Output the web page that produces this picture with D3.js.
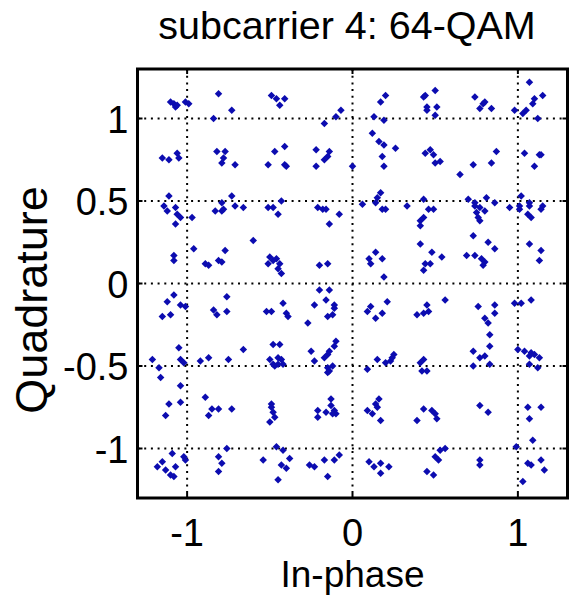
<!DOCTYPE html>
<html>
<head>
<meta charset="utf-8">
<script src="https://cdn.jsdelivr.net/npm/d3@7"></script>
<style>
  body { margin: 0; background: #fff; }
  text { font-family: "Liberation Sans", Arial, sans-serif; fill: #000; }
</style>
</head>
<body>
<svg id="chart" width="570" height="596"></svg>
<script>
var title = "subcarrier 4: 64-QAM";
var xLabel = "In-phase";
var yLabel = "Quadrature";
var xTicks = [-1, 0, 1];
var yTicks = [-1, -0.5, 0, 0.5, 1];
var limits = [-1.3, 1.3];

// received symbols, [in-phase, quadrature]
var received = [
  [-1.10,1.10],[-1.08,1.09],[-1.07,1.07],[-1.06,1.08],[-1.01,1.10],[-0.99,1.09],
  [-0.81,1.15],[-0.84,1.00],[-0.73,1.05],[-0.49,1.14],
  [-1.15,0.76],[-1.11,0.75],[-1.06,0.79],[-1.05,0.76],
  [-0.82,0.80],[-0.77,0.80],[-0.78,0.76],[-0.79,0.73],[-0.71,0.72],
  [-0.47,0.80],[-0.51,0.72],
  [-1.11,0.53],[-0.73,0.53],[-0.79,0.49],
  [-1.14,0.47],[-1.12,0.44],[-1.07,0.46],[-1.06,0.42],[-1.04,0.40],[-0.97,0.40],[-1.07,0.36],
  [-0.83,0.44],[-0.79,0.44],[-0.78,0.45],[-0.71,0.47],[-0.66,0.46],
  [-0.51,0.46],[-0.48,0.46],[-0.45,0.42],
  [-0.60,0.26],[-0.96,0.21],[-0.77,0.20],[-1.08,0.17],[-1.08,0.14],
  [-0.89,0.12],[-0.87,0.11],[-0.81,0.14],[-0.79,0.13],
  [-0.50,0.16],[-0.48,0.14],[-0.51,0.12],[-0.46,0.15],[-0.44,0.12],[-0.45,0.09],[-0.43,0.06],
  [-1.08,-0.07],[-1.12,-0.11],[-1.04,-0.13],[-1.01,-0.14],[-1.15,-0.20],[-1.10,-0.19],
  [-0.76,-0.08],[-0.84,-0.16],[-0.82,-0.19],[-0.76,-0.17],
  [-0.52,-0.17],[-0.49,-0.17],
  [-1.05,-0.39],[-0.66,-0.40],[-0.48,-0.37],
  [-0.46,1.12],[-0.44,1.08],[-0.41,1.12],
  [-0.17,0.97],[-0.10,1.01],[-0.07,1.05],
  [0.13,1.01],[0.19,0.99],[0.17,1.10],[0.20,1.14],
  [0.12,0.91],[0.16,0.86],[0.19,0.84],[0.26,0.82],[0.18,0.77],[0.19,0.71],
  [0.00,0.71],
  [-0.22,0.81],[-0.14,0.80],[-0.15,0.77],[-0.17,0.75],[-0.22,0.71],
  [-0.41,0.83],[-0.41,0.72],[-0.40,0.71],
  [-0.43,0.50],[0.06,0.48],[0.15,0.52],[0.17,0.55],[0.14,0.49],
  [-0.21,0.46],[-0.18,0.45],[-0.16,0.45],[-0.08,0.42],[-0.14,0.36],
  [0.18,0.45],[0.20,0.45],[0.33,0.47],
  [-0.20,0.11],[-0.15,0.12],
  [0.14,0.19],[0.10,0.15],[0.11,0.12],[0.18,0.15],[0.19,0.04],
  [-0.20,-0.04],[-0.14,-0.04],[-0.16,-0.10],[-0.11,-0.13],[-0.11,-0.15],[-0.23,-0.13],[-0.15,-0.20],[-0.12,-0.19],
  [-0.42,-0.12],[-0.40,-0.18],[-0.39,-0.20],[-0.27,-0.24],
  [0.11,-0.14],[0.09,-0.17],[0.14,-0.21],[0.21,-0.11],[0.18,-0.18],
  [-0.44,-0.37],[-0.25,-0.41],[-0.10,-0.35],[-0.11,-0.38],[-0.14,-0.41],
  [0.43,1.13],[0.44,1.14],[0.45,1.07],[0.45,1.05],[0.50,1.17],[0.51,1.07],[0.50,1.02],
  [0.74,1.13],[0.79,1.09],[0.80,1.10],[0.77,1.06],[0.84,1.06],
  [1.07,1.22],[1.10,1.12],[1.15,1.14],[1.09,1.09],[0.98,1.05],[1.03,1.03],[1.05,1.05],[1.12,1.00],
  [0.44,0.79],[0.47,0.81],[0.49,0.78],[0.50,0.73],[0.53,0.74],
  [0.65,0.66],[0.73,0.72],[0.84,0.73],[0.87,0.80],
  [1.04,0.79],[1.13,0.78],[1.14,0.78],[1.10,0.71],
  [0.43,0.51],[0.70,0.51],[0.74,0.49],[0.81,0.52],[0.86,0.49],[1.02,0.53],[1.07,0.49],
  [0.46,0.45],[0.49,0.45],[0.43,0.40],[0.41,0.38],[0.41,0.35],
  [0.74,0.47],[0.77,0.46],[0.75,0.43],[0.80,0.44],[0.77,0.38],[0.76,0.40],
  [0.95,0.46],[1.01,0.47],[1.01,0.45],[1.07,0.47],[1.06,0.42],[1.08,0.40],[1.14,0.45],[1.15,0.47],
  [0.41,0.24],[0.48,0.19],[0.54,0.16],[0.44,0.12],[0.47,0.12],[0.43,0.08],
  [0.73,0.29],[0.82,0.25],[0.86,0.21],[0.69,0.17],[0.74,0.17],[0.78,0.15],[0.80,0.13],[0.79,0.11],
  [1.07,0.24],[1.14,0.20],[1.13,0.14],
  [0.56,-0.10],[0.45,-0.13],[0.46,-0.17],[0.43,-0.18],[0.39,-0.19],
  [0.76,-0.14],[0.86,-0.13],[0.86,-0.18],[0.80,-0.21],[0.82,-0.24],[0.83,-0.31],[0.83,-0.38],[0.73,-0.41],
  [0.98,-0.12],[1.02,-0.12],[1.08,-0.10],
  [1.00,-0.40],[1.04,-0.41],[1.08,-0.42],
  [-1.21,-0.46],[-1.17,-0.51],[-1.16,-0.57],[-1.04,-0.46],[-1.02,-0.48],[-0.92,-0.47],[-0.87,-0.45],[-0.75,-0.46],
  [-0.50,-0.46],[-0.48,-0.49],[-0.47,-0.50],
  [-1.04,-0.62],[-1.04,-0.72],[-1.11,-0.73],[-1.13,-0.80],
  [-0.89,-0.69],[-0.85,-0.76],[-0.81,-0.76],[-0.73,-0.76],[-0.87,-0.80],
  [-0.49,-0.73],[-0.48,-0.78],[-0.47,-0.81],[-0.50,-0.84],[-0.49,-0.75],
  [-1.09,-1.03],[-1.02,-1.05],[-1.01,-1.07],[-1.15,-1.08],[-1.18,-1.11],[-1.13,-1.13],[-1.07,-1.11],[-1.10,-1.16],[-1.08,-1.17],
  [-0.76,-1.00],[-0.81,-1.05],[-0.79,-1.09],[-0.81,-1.14],
  [-0.46,-0.99],[-0.54,-1.07],
  [-0.45,-0.45],[-0.43,-0.46],[-0.42,-0.49],[-0.45,-0.49],
  [-0.23,-0.47],[-0.17,-0.45],[-0.15,-0.43],[-0.15,-0.51],[-0.14,-0.53],[-0.12,-0.50],[-0.15,-0.54],
  [0.09,-0.52],[0.15,-0.46],[0.20,-0.48],[0.23,-0.47],[0.25,-0.43],[0.24,-0.45],
  [-0.21,-0.77],[-0.21,-0.81],[-0.16,-0.78],[-0.13,-0.70],[-0.13,-0.74],[-0.11,-0.77],[-0.10,-0.79],[-0.12,-0.79],
  [0.09,-0.77],[0.12,-0.79],[0.14,-0.73],[0.16,-0.70],[0.15,-0.75],[0.17,-0.83],
  [-0.42,-1.01],[-0.38,-1.06],[-0.43,-1.10],[-0.40,-1.12],[-0.45,-1.19],
  [-0.26,-1.10],[-0.23,-1.11],[-0.17,-1.07],[-0.11,-1.07],[-0.08,-1.04],[-0.15,-1.17],
  [0.10,-1.08],[0.13,-1.11],[0.17,-1.09],[0.22,-1.11],[0.17,-1.15],
  [0.43,-0.46],[0.41,-0.48],[0.42,-0.53],[0.45,-0.53],
  [0.77,-0.45],[0.80,-0.44],[0.83,-0.49],[0.73,-0.50],
  [1.07,-0.44],[1.10,-0.43],[1.13,-0.45],[1.07,-0.49],[1.12,-0.51],
  [0.43,-0.76],[0.48,-0.77],[0.50,-0.79],[0.51,-0.82],[0.39,-0.83],
  [0.77,-0.74],[0.82,-0.78],
  [1.06,-0.75],[1.14,-0.75],[1.07,-0.82],[1.09,-0.95],
  [0.53,-1.01],[0.56,-1.00],[0.50,-1.05],[0.52,-1.07],[0.45,-1.14],[0.49,-1.16],
  [0.77,-1.07],[0.77,-1.10],
  [0.99,-0.99],[1.06,-1.09],[1.08,-1.10],[1.14,-1.07],[1.16,-1.13],[1.03,-1.20]
];

var svg = d3.select("#chart");
var fontSize = 38;

var x = d3.scaleLinear().domain(limits).range([137.5, 567.5]);
var y = d3.scaleLinear().domain(limits).range([498, 69]);

var x0 = x.range()[0], x1 = x.range()[1];
var y0 = y.range()[1], y1 = y.range()[0];

svg.append("rect")
    .attr("x", x0).attr("y", y0)
    .attr("width", x1 - x0).attr("height", y1 - y0)
    .attr("fill", "#fff");

// dotted grid
var grid = svg.append("g")
    .attr("stroke", "#000")
    .attr("stroke-width", 2)
    .attr("stroke-dasharray", "2 4.7");

grid.selectAll("line.gx")
  .data(xTicks)
  .join("line")
    .attr("class", "gx")
    .attr("x1", d => x(d)).attr("x2", d => x(d))
    .attr("y1", y0).attr("y2", y1);

grid.selectAll("line.gy")
  .data(yTicks)
  .join("line")
    .attr("class", "gy")
    .attr("x1", x0).attr("x2", x1)
    .attr("y1", d => y(d)).attr("y2", d => y(d));

// the symbols
svg.append("g")
  .selectAll("path")
  .data(received)
  .join("path")
    .attr("d", d3.symbol(d3.symbolSquare, 28))
    .attr("transform", d => "translate(" + x(d[0]) + "," + y(d[1]) + ") rotate(45)")
    .attr("fill", "#0c0cb0");

// ticks on all four sides, pointing in
var ticks = svg.append("g").attr("stroke", "#000").attr("stroke-width", 2);
var tl = 5;
xTicks.forEach(function(t) {
  ticks.append("line").attr("x1", x(t)).attr("x2", x(t)).attr("y1", y1).attr("y2", y1 - tl);
  ticks.append("line").attr("x1", x(t)).attr("x2", x(t)).attr("y1", y0).attr("y2", y0 + tl);
});
yTicks.forEach(function(t) {
  ticks.append("line").attr("x1", x0).attr("x2", x0 + tl).attr("y1", y(t)).attr("y2", y(t));
  ticks.append("line").attr("x1", x1).attr("x2", x1 - tl).attr("y1", y(t)).attr("y2", y(t));
});

// box
svg.append("rect")
    .attr("x", x0).attr("y", y0)
    .attr("width", x1 - x0).attr("height", y1 - y0)
    .attr("fill", "none")
    .attr("stroke", "#000")
    .attr("stroke-width", 3);

// tick labels
svg.append("g")
  .selectAll("text")
  .data(xTicks)
  .join("text")
    .attr("x", d => x(d))
    .attr("y", 546)
    .attr("text-anchor", "middle")
    .style("font-size", fontSize + "px")
    .text(d => String(d));

svg.append("g")
  .selectAll("text")
  .data(yTicks)
  .join("text")
    .attr("x", x0 - 9)
    .attr("y", d => y(d) + 14)
    .attr("text-anchor", "end")
    .style("font-size", fontSize + "px")
    .text(d => String(d));

// titles
svg.append("text")
    .attr("x", 347)
    .attr("y", 39)
    .attr("text-anchor", "middle")
    .style("font-size", "39.5px")
    .text(title);

svg.append("text")
    .attr("x", (x0 + x1) / 2)
    .attr("y", 587)
    .attr("text-anchor", "middle")
    .style("font-size", "37px")
    .text(xLabel);

svg.append("text")
    .attr("transform", "translate(47,300) rotate(-90)")
    .attr("text-anchor", "middle")
    .style("font-size", "45px")
    .text(yLabel);
</script>
</body>
</html>
